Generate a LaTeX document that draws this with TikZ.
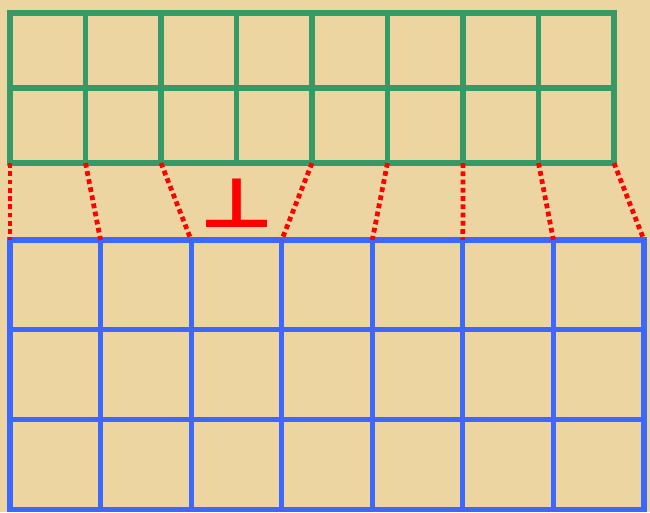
\documentclass[tikz,border=0pt]{standalone}
\usepackage{fontspec}
\usepackage{graphicx}
\newfontfamily\symfont{DejaVu Sans}
\usetikzlibrary{positioning}
\definecolor{papyrus}{RGB}{236,213,160}
\definecolor{gridgreen}{RGB}{54,154,102}
\definecolor{gridblue}{RGB}{59,104,255}
\definecolor{linkred}{RGB}{255,0,0}

\begin{document}
\begin{tikzpicture}[x=0.02cm, y=-0.02cm,
    upgrid/.style={gridgreen, line width=3pt, line cap=rect},
    lowgrid/.style={gridblue, line width=2.9pt, line cap=rect},
    link/.style={linkred, line width=2.7pt, dash pattern=on 2.7pt off 2pt}
]
    % background
    \fill[papyrus] (0,0) rectangle (650,512);
    \useasboundingbox (0,0) rectangle (650,512);

    % upper grid: 8 x 2
    \foreach \i in {0,...,8} {
        \draw[upgrid] (10+75.5*\i,13) -- (10+75.5*\i,163);
        \coordinate (g\i) at (10+75.5*\i,163);
    }
    \foreach \j in {0,1,2}
        \draw[upgrid] (10,13+75*\j) -- (614,13+75*\j);

    % lower grid: 7 x 3
    \foreach \i in {0,...,7} {
        \draw[lowgrid] (10+90.57*\i,240) -- (10+90.57*\i,509);
        \coordinate (b\i) at (10+90.57*\i,240);
    }
    \foreach \j in {0,1,2,3}
        \draw[lowgrid] (10,240+89.7*\j) -- (644,240+89.7*\j);

    % the missing line
    \node[text=linkred, inner sep=0pt] (bot) at (237,203)
        {\resizebox{1.5cm}{0.97cm}{\symfont\bfseries ⊥}};

    % links
    \foreach \a/\b in {0/0, 1/1, 2/2, 4/3, 5/4, 6/5, 7/6, 8/7}
        \draw[link] (g\a) -- (b\b);
\end{tikzpicture}
\end{document}
